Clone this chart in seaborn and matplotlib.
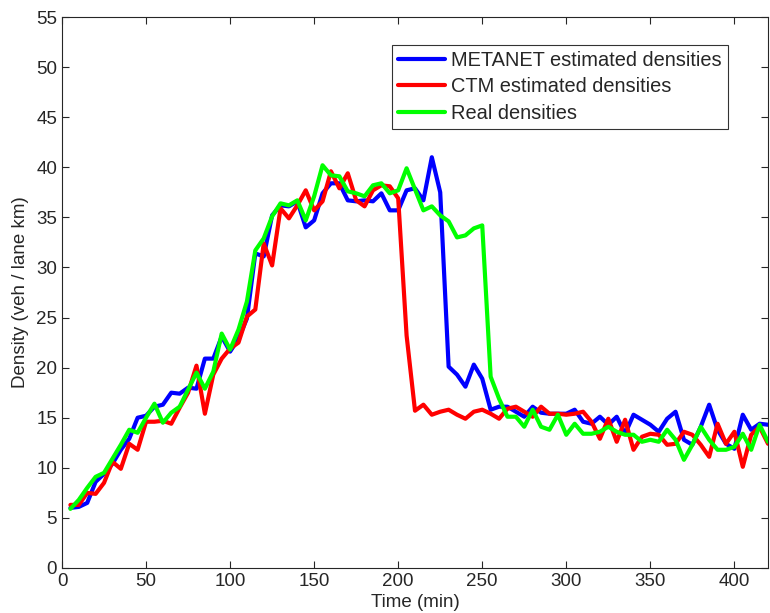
import numpy as np
import pandas as pd
import seaborn as sns
import matplotlib.pyplot as plt

# time axis, one sample every 5 min
time_min = list(range(5, 425, 5))

metanet = [6.0, 6.1, 6.5, 8.6, 9.4, 10.4, 11.8, 12.9, 15.0, 15.2,
           16.1, 16.3, 17.5, 17.4, 18.0, 17.9, 20.9, 20.9, 23.1, 21.6,
           22.9, 24.9, 31.4, 31.1, 35.2, 36.2, 36.1, 36.6, 34.0, 34.7,
           37.4, 38.4, 38.4, 36.7, 36.6, 36.7, 36.6, 37.4, 35.7, 35.7,
           37.7, 37.9, 36.7, 41.0, 37.5, 20.1, 19.3, 18.1, 20.3, 18.9,
           15.8, 16.1, 16.1, 15.6, 15.1, 16.1, 15.5, 15.4, 15.4, 15.4,
           15.8, 14.6, 14.4, 15.1, 14.3, 15.1, 13.4, 15.3, 14.8, 14.3,
           13.6, 14.9, 15.6, 12.8, 12.3, 14.1, 16.3, 13.8, 12.4, 11.9,
           15.3, 13.8, 14.4, 14.3]

ctm = [6.3, 6.3, 7.5, 7.4, 8.5, 10.6, 9.9, 12.4, 11.8, 14.6,
       14.6, 14.7, 14.4, 16.0, 17.5, 20.2, 15.4, 19.3, 20.9, 21.9,
       22.5, 25.1, 25.8, 32.4, 30.2, 35.9, 34.9, 36.2, 37.7, 35.7,
       36.6, 39.6, 37.9, 39.4, 36.7, 36.1, 37.7, 38.2, 38.1, 36.9,
       23.2, 15.7, 16.3, 15.3, 15.6, 15.8, 15.3, 14.9, 15.6, 15.8,
       15.4, 14.9, 15.9, 16.1, 15.6, 15.1, 16.1, 15.4, 15.4, 15.3,
       15.4, 15.6, 14.6, 12.9, 14.9, 12.6, 14.8, 11.8, 13.1, 13.4,
       13.3, 12.3, 12.4, 13.6, 13.3, 12.3, 11.1, 14.4, 12.4, 13.6,
       10.1, 13.3, 14.1, 12.4]

real = [5.9, 6.8, 8.0, 9.1, 9.5, 10.9, 12.3, 13.8, 13.5, 15.0,
        16.4, 14.5, 15.5, 16.1, 17.8, 19.5, 17.9, 19.6, 23.4, 21.8,
        23.8, 26.6, 31.7, 32.9, 35.1, 36.4, 36.2, 36.7, 34.7, 37.1,
        40.2, 39.2, 39.1, 37.6, 37.4, 37.1, 38.2, 38.4, 37.4, 37.7,
        39.9, 37.8, 35.7, 36.1, 35.2, 34.6, 33.0, 33.2, 33.9, 34.2,
        19.1, 16.9, 15.1, 15.1, 14.1, 15.8, 14.1, 13.8, 15.3, 13.3,
        14.4, 13.4, 13.4, 13.6, 14.1, 13.6, 13.3, 13.3, 12.6, 12.8,
        12.6, 13.8, 12.8, 10.8, 12.3, 14.1, 12.8, 11.8, 11.8, 12.1,
        13.4, 11.8, 14.3, 12.6]

labels = ['METANET estimated densities', 'CTM estimated densities', 'Real densities']
colors = ['#0000ff', '#ff0000', '#00ff00']

df = pd.concat([
    pd.DataFrame({'t': time_min, 'density': metanet, 'series': labels[0]}),
    pd.DataFrame({'t': time_min, 'density': ctm, 'series': labels[1]}),
    pd.DataFrame({'t': time_min, 'density': real, 'series': labels[2]}),
])

sns.set_style("ticks")
plt.rcParams['font.family'] = ['Liberation Sans', 'DejaVu Sans']
plt.rcParams['xtick.direction'] = 'in'
plt.rcParams['ytick.direction'] = 'in'

fig = plt.figure(figsize=(7.7, 6.13), dpi=100)
ax = fig.add_axes([62 / 770, 1 - 568 / 613, 706 / 770, 551 / 613])

sns.lineplot(data=df, x='t', y='density', hue='series', hue_order=labels,
             palette=colors, linewidth=3, ax=ax)

ax.set_xlim(0, 420)
ax.set_ylim(0, 55)
ax.set_xticks(range(0, 401, 50))
ax.set_yticks(range(0, 56, 5))
ax.tick_params(axis='both', labelsize=13.5, top=True, right=True, length=5, width=0.8)
ax.set_xlabel('Time (min)', fontsize=13.5, labelpad=3)
ax.set_ylabel('Density (veh / lane km)', fontsize=13.5, labelpad=5)
for s in ax.spines.values():
    s.set_visible(True)
    s.set_linewidth(0.8)

leg = ax.legend(loc='upper right', bbox_to_anchor=(0.943, 0.949), fontsize=14.4,
                frameon=True, fancybox=False, handlelength=2.35, borderpad=0.3,
                labelspacing=0.36, handletextpad=0.3, borderaxespad=0)
leg.get_frame().set_edgecolor('black')
leg.get_frame().set_linewidth(0.8)
for line in leg.get_lines():
    line.set_linewidth(3)

fig.savefig('out.png', dpi=100)
